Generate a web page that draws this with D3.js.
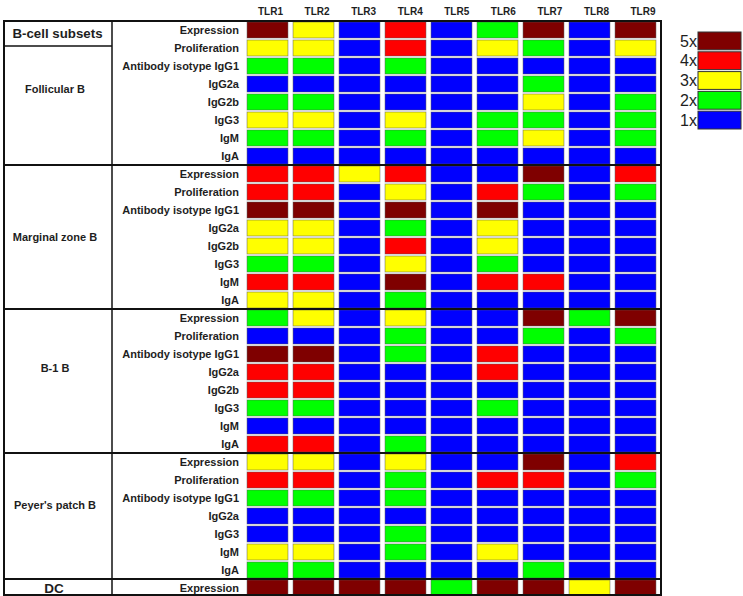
<!DOCTYPE html>
<html>
<head>
<meta charset="utf-8">
<script src="https://cdn.jsdelivr.net/npm/d3@7"></script>
<style>
  html, body { margin: 0; padding: 0; background: #fff; }
  svg { display: block; }
  text { font-family: "Liberation Sans", Arial, sans-serif; fill: #1e1e1e; }
</style>
</head>
<body>
<svg id="chart" width="743" height="596"></svg>
<script>
// ---------------- DATA ----------------
const columns = ["TLR1", "TLR2", "TLR3", "TLR4", "TLR5", "TLR6", "TLR7", "TLR8", "TLR9"];
const groups = ["Follicular B", "Marginal zone B", "B-1 B", "Peyer's patch B", "DC"];

const follicularRows = ["Expression", "Proliferation", "Antibody isotype IgG1", "IgG2a", "IgG2b", "IgG3", "IgM", "IgA"];
const marginalRows   = ["Expression", "Proliferation", "Antibody isotype IgG1", "IgG2a", "IgG2b", "IgG3", "IgM", "IgA"];
const b1Rows         = ["Expression", "Proliferation", "Antibody isotype IgG1", "IgG2a", "IgG2b", "IgG3", "IgM", "IgA"];
const peyersRows     = ["Expression", "Proliferation", "Antibody isotype IgG1", "IgG2a", "IgG3", "IgM", "IgA"];
const dcRows         = ["Expression"];

// fold-change level (1x..5x) per row, columns TLR1..TLR9
const follicularValues = [
  [5, 3, 1, 4, 1, 2, 5, 1, 5],
  [3, 3, 1, 4, 1, 3, 2, 1, 3],
  [2, 2, 1, 2, 1, 1, 1, 1, 1],
  [1, 1, 1, 1, 1, 1, 2, 1, 1],
  [2, 2, 1, 1, 1, 1, 3, 1, 2],
  [3, 3, 1, 3, 1, 2, 2, 1, 2],
  [2, 2, 1, 2, 1, 2, 3, 1, 2],
  [1, 1, 1, 1, 1, 1, 1, 1, 1]
];
const marginalValues = [
  [4, 4, 3, 4, 1, 1, 5, 1, 4],
  [4, 4, 1, 3, 1, 4, 2, 1, 2],
  [5, 5, 1, 5, 1, 5, 1, 1, 1],
  [3, 3, 1, 2, 1, 3, 1, 1, 1],
  [3, 3, 1, 4, 1, 3, 1, 1, 1],
  [2, 2, 1, 3, 1, 2, 1, 1, 1],
  [4, 4, 1, 5, 1, 4, 4, 1, 1],
  [3, 3, 1, 2, 1, 1, 1, 1, 1]
];
const b1Values = [
  [2, 3, 1, 3, 1, 1, 5, 2, 5],
  [1, 1, 1, 2, 1, 1, 2, 1, 2],
  [5, 5, 1, 2, 1, 4, 1, 1, 1],
  [4, 4, 1, 1, 1, 4, 1, 1, 1],
  [4, 4, 1, 1, 1, 1, 1, 1, 1],
  [2, 2, 1, 1, 1, 2, 1, 1, 1],
  [1, 1, 1, 1, 1, 1, 1, 1, 1],
  [4, 4, 1, 2, 1, 1, 1, 1, 1]
];
const peyersValues = [
  [3, 3, 1, 3, 1, 1, 5, 1, 4],
  [4, 4, 1, 2, 1, 4, 4, 1, 2],
  [2, 2, 1, 2, 1, 1, 1, 1, 1],
  [1, 1, 1, 1, 1, 1, 1, 1, 1],
  [1, 1, 1, 2, 1, 1, 1, 1, 1],
  [3, 3, 1, 2, 1, 3, 1, 1, 1],
  [2, 2, 1, 1, 1, 1, 2, 1, 1]
];
const dcValues = [
  [5, 5, 5, 5, 2, 5, 5, 3, 5]
];

const legendLevels = [5, 4, 3, 2, 1];
const legendLabels = ["5x", "4x", "3x", "2x", "1x"];
const levelColors  = ["#0000ff", "#00ff00", "#ffff00", "#ff0000", "#7f0000"]; // 1x..5x
const headerTitle = "B-cell subsets";

// ---------------- BUILD ----------------
const groupRows = [follicularRows, marginalRows, b1Rows, peyersRows, dcRows];
const groupValues = [follicularValues, marginalValues, b1Values, peyersValues, dcValues];

const rows = [];
groups.forEach((g, gi) => {
  groupRows[gi].forEach((label, ri) => {
    rows.push({ key: g + "|" + ri, group: g, gi, ri, label, values: groupValues[gi][ri] });
  });
});
const cells = [];
rows.forEach(r => r.values.forEach((v, ci) => cells.push({ key: r.key, col: columns[ci], v })));

// ---------------- LAYOUT ----------------
const svg = d3.select("#chart");
const tableLeft = 4, tableRight = 661, tableTop = 21, rowH = 18;
const groupColRight = 112;

const y = d3.scaleBand().domain(rows.map(r => r.key))
  .range([tableTop, tableTop + rows.length * rowH]).paddingInner(0).paddingOuter(0);
const x = d3.scaleBand().domain(columns).range([244.5, 658.5]).paddingInner(0.11).paddingOuter(0.055);
const headerX = d3.scalePoint().domain(columns).range([270.5, 643]);
const color = d3.scaleOrdinal().domain([1, 2, 3, 4, 5]).range(levelColors);

// cells
svg.append("g").selectAll("rect").data(cells).join("rect")
  .attr("x", d => x(d.col))
  .attr("y", d => y(d.key) + 1)
  .attr("width", x.bandwidth())
  .attr("height", y.bandwidth() - 2)
  .attr("fill", d => color(d.v))
  .attr("stroke", "#555")
  .attr("stroke-opacity", 0.6)
  .attr("stroke-width", 0.8);

// column headers
svg.append("g").selectAll("text").data(columns).join("text")
  .attr("x", d => headerX(d))
  .attr("y", 15)
  .attr("text-anchor", "middle")
  .attr("font-size", 10)
  .attr("font-weight", "bold")
  .text(d => d);

// row labels
svg.append("g").selectAll("text").data(rows).join("text")
  .attr("x", 239)
  .attr("y", d => y(d.key) + y.bandwidth() / 2)
  .attr("dy", "0.36em")
  .attr("text-anchor", "end")
  .attr("font-size", 11)
  .attr("font-weight", "bold")
  .text(d => d.label);

// group boundaries
const groupBounds = groups.map((g, gi) => {
  const rs = rows.filter(r => r.gi === gi);
  return { g, gi, top: y(rs[0].key), bottom: y(rs[rs.length - 1].key) + rowH, n: rs.length };
});
const groupLabelRow = [3.8, 4.0, 3.3, 2.9, 0.5]; // vertical placement of group names (in rows)

svg.append("g").selectAll("text").data(groupBounds).join("text")
  .attr("x", d => d.gi === 4 ? 54 : 55)
  .attr("y", d => d.top + groupLabelRow[d.gi] * rowH)
  .attr("dy", "0.36em")
  .attr("text-anchor", "middle")
  .attr("font-size", d => d.gi === 4 ? 13.5 : 11)
  .attr("font-weight", "bold")
  .text(d => d.g);

// header title
svg.append("text")
  .attr("x", 57.5).attr("y", tableTop + 12.5)
  .attr("dy", "0.36em")
  .attr("text-anchor", "middle")
  .attr("font-size", 13.3)
  .attr("font-weight", "bold")
  .attr("fill", "#2a2a2a")
  .text(headerTitle);

// lines
const lines = svg.append("g").attr("stroke", "#111").attr("fill", "none");
lines.append("rect")
  .attr("x", tableLeft).attr("y", tableTop)
  .attr("width", tableRight - tableLeft).attr("height", 595 - tableTop)
  .attr("stroke-width", 2);
lines.append("line")
  .attr("x1", groupColRight).attr("x2", groupColRight)
  .attr("y1", tableTop).attr("y2", 595).attr("stroke-width", 1.5);
lines.selectAll("line.sep").data(groupBounds.slice(1)).join("line")
  .attr("class", "sep")
  .attr("x1", tableLeft).attr("x2", tableRight)
  .attr("y1", d => d.top).attr("y2", d => d.top)
  .attr("stroke-width", 2);
lines.append("line")
  .attr("x1", tableLeft).attr("x2", groupColRight)
  .attr("y1", tableTop + 25).attr("y2", tableTop + 25).attr("stroke-width", 1.5);

// legend
const ly = d3.scaleBand().domain(legendLevels).range([32, 129]).paddingInner(0.1);
const legend = svg.append("g");
legend.selectAll("rect").data(legendLevels).join("rect")
  .attr("x", 698).attr("y", d => ly(d))
  .attr("width", 43).attr("height", ly.bandwidth())
  .attr("fill", d => color(d))
  .attr("stroke", "#333").attr("stroke-width", 1);
legend.selectAll("text").data(legendLevels).join("text")
  .attr("x", 697).attr("y", d => ly(d) + ly.bandwidth() / 2)
  .attr("dy", "0.36em")
  .attr("text-anchor", "end")
  .attr("font-size", 16)
  .attr("fill", "#333")
  .text((d, i) => legendLabels[i]);
</script>
</body>
</html>
